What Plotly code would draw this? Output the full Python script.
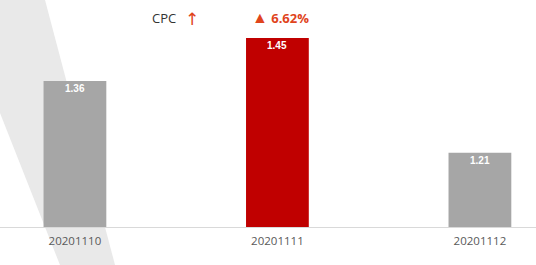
import plotly.graph_objects as go

categories = ["20201110", "20201111", "20201112"]
values = [1.36, 1.45, 1.21]
labels = ["1.36", "1.45", "1.21"]
bar_colors = ["#a6a6a6", "#c00000", "#a6a6a6"]
metric = "CPC"
change_text = "6.62%"

W, H = 536, 265
B = 38
PH = H - B

def px(x):
    return x / W

def py(y):
    return (PH - y) / PH

fig = go.Figure()
fig.add_trace(go.Bar(
    x=categories, y=values, width=0.31,
    marker=dict(color=bar_colors, line=dict(width=0)),
    hoverinfo="skip",
))

for i, (v, t) in enumerate(zip(values, labels)):
    fig.add_annotation(x=i, y=v, xref="x", yref="y", text="<b>" + t + "</b>", showarrow=False,
                       xanchor="center", yanchor="middle", yshift=-8,
                       font=dict(size=10, color="white", family="Arial"))

band = [(0, 0), (45, 0), (115, 265), (60, 265), (0, 113)]
path = "M " + " L ".join(f"{px(a):.4f},{py(b):.4f}" for a, b in band) + " Z"
fig.add_shape(type="path", path=path, xref="paper", yref="paper",
              fillcolor="#e9e9e9", line=dict(width=0), layer="below")

fig.add_annotation(text=metric, x=px(164), y=py(18), xref="paper", yref="paper",
                   xanchor="center", yanchor="middle",
                   showarrow=False, font=dict(size=13, color="#333333", family="Open Sans"))
fig.add_annotation(text="↑", x=px(192), y=py(19), xref="paper", yref="paper",
                   xanchor="center", yanchor="middle",
                   showarrow=False, font=dict(size=17, color="#e0441c", family="DejaVu Sans"))
fig.add_annotation(text="<span style='font-size:16px'>▲</span> <b>" + change_text + "</b>",
                   x=px(280), y=py(17), xref="paper", yref="paper",
                   xanchor="center", yanchor="middle",
                   showarrow=False, font=dict(size=13, color="#e0441c", family="Open Sans"))

fig.update_layout(
    width=W, height=H,
    margin=dict(l=0, r=0, t=0, b=B),
    paper_bgcolor="white", plot_bgcolor="rgba(0,0,0,0)",
    showlegend=False,
    xaxis=dict(type="category", range=[-0.37, 2.277], showline=True, linecolor="#d9d9d9", linewidth=1,
               showgrid=False, zeroline=False, ticks="", ticklabelstandoff=3,
               tickfont=dict(size=11.5, color="#595959", family="Open Sans")),
    yaxis=dict(range=[1.0544, 1.5295], visible=False, showgrid=False, zeroline=False),
)

fig.write_html("out.html")
